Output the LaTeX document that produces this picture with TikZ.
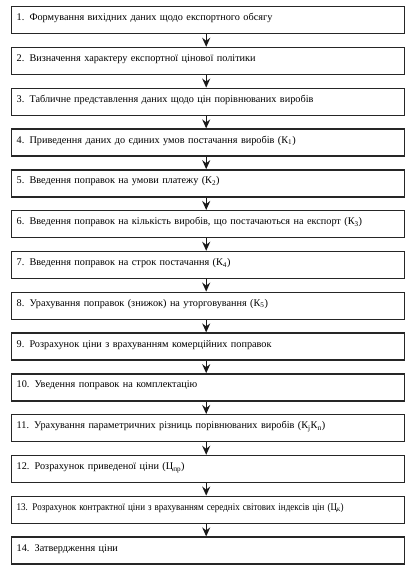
\documentclass[tikz,border=0pt]{standalone}
\usepackage{fontspec}
\setmainfont{Liberation Serif}
\usetikzlibrary{arrows.meta}
\tikzset{
  stepbox/.style={draw=black!85, line width=1.4pt, anchor=north west,
    inner xsep=5pt, inner ysep=0pt, text width=383pt, align=left,
    text height=14pt, text depth=13pt, font=\fontsize{10.25}{12}\selectfont},
  flowarrow/.style={draw=black!90, line width=1.4pt,
    -{Stealth[length=9pt,width=8pt,inset=3pt]}}
}
\newcommand{\sbs}[1]{\textsubscript{#1}}
\begin{document}
\begin{tikzpicture}[x=1pt,y=1pt]
\useasboundingbox (0,0) rectangle (414,-569);
\node[stepbox] (b1) at (11,-6) {1. Формування вихідних даних щодо експортного обсягу};
\node[stepbox] (b2) at (11,-46.8) {2. Визначення характеру експортної цінової політики};
\node[stepbox] (b3) at (11,-87.6) {3. Табличне представлення даних щодо цін порівнюваних виробів};
\node[stepbox] (b4) at (11,-128.4) {4. Приведення даних до єдиних умов постачання виробів (К\sbs{1})};
\node[stepbox] (b5) at (11,-169.2) {5. Введення поправок на умови платежу (К\sbs{2})};
\node[stepbox] (b6) at (11,-210) {6. Введення поправок на кількість виробів, що постачаються на експорт (К\sbs{3})};
\node[stepbox] (b7) at (11,-250.8) {7. Введення поправок на строк постачання (К\sbs{4})};
\node[stepbox] (b8) at (11,-291.6) {8. Урахування поправок (знижок) на уторговування (К\sbs{5})};
\node[stepbox] (b9) at (11,-332.4) {9. Розрахунок ціни з врахуванням комерційних поправок};
\node[stepbox] (b10) at (11,-373.2) {10. Уведення поправок на комплектацію};
\node[stepbox] (b11) at (11,-414) {11. Урахування параметричних різниць порівнюваних виробів (К\sbs{j}К\sbs{п})};
\node[stepbox] (b12) at (11,-454.8) {12. Розрахунок приведеної ціни (Ц\sbs{пр})};
\node[stepbox] (b13) at (11,-495.6) {\scalebox{0.88}[1]{13. Розрахунок контрактної ціни з врахуванням середніх світових індексів цін (Ц\sbs{к})}};
\node[stepbox] (b14) at (11,-536.4) {14. Затвердження ціни};
\foreach \a/\b in {b1/b2,b2/b3,b3/b4,b4/b5,b5/b6,b6/b7,b7/b8,b8/b9,b9/b10,b10/b11,b11/b12,b12/b13,b13/b14}
  \draw[flowarrow] ([xshift=-2pt]\a.south) -- ([xshift=-2pt]\b.north);
\end{tikzpicture}
\end{document}
